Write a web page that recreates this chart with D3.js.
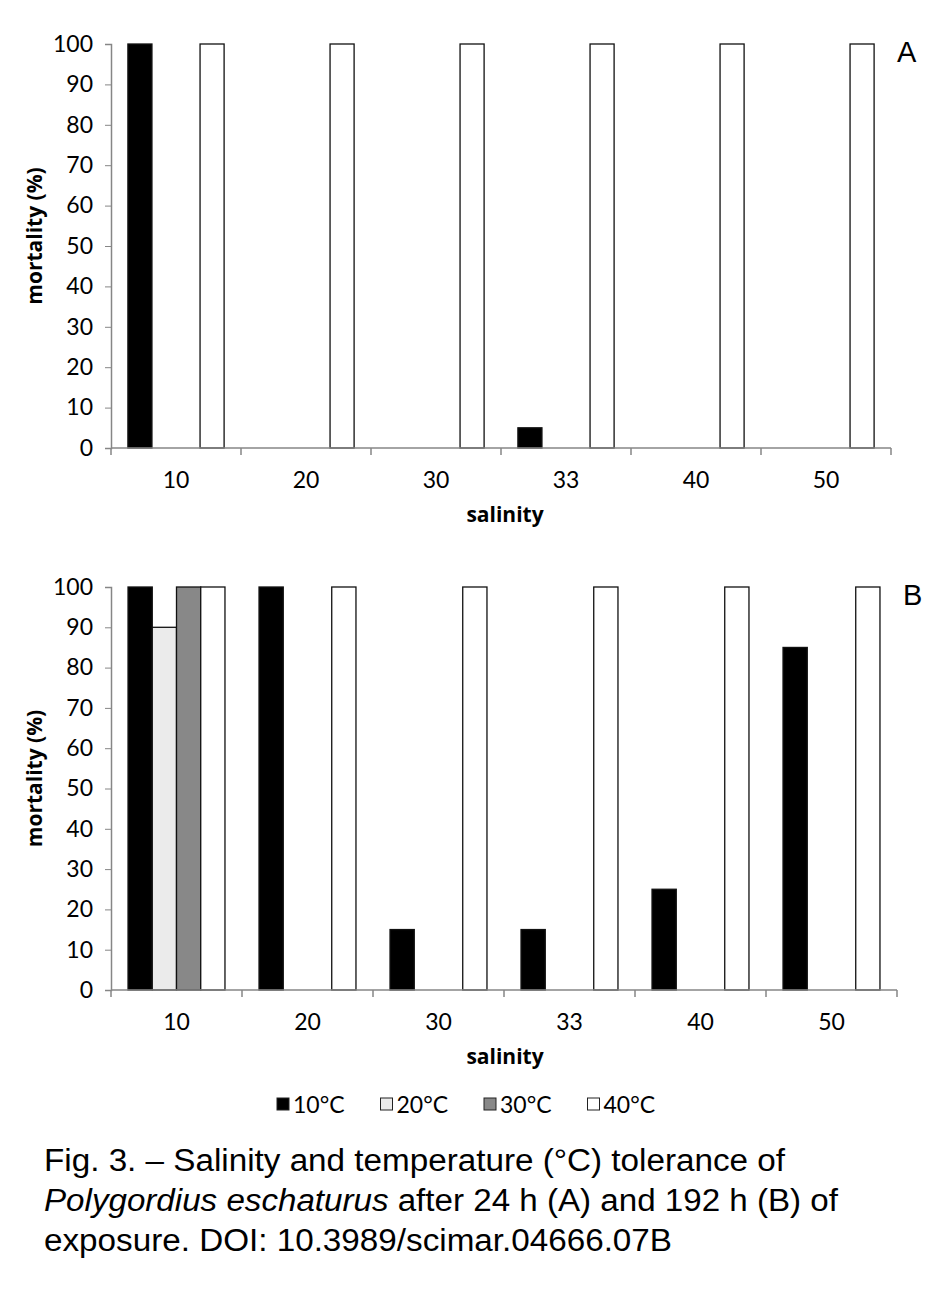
<!DOCTYPE html>
<html>
<head>
<meta charset="utf-8">
<script src="https://cdn.jsdelivr.net/npm/d3@7"></script>
<style>
  body { margin: 0; background: #fff; }
  .axis path, .axis line { stroke: #868686; }
  .axis text { font-family: Lato, "Open Sans", sans-serif; font-size: 23px; fill: #000; }
  .axis_title { font-family: "Open Sans", Lato, sans-serif; font-weight: bold; font-size: 21px; }
  .panel_label { font-family: "Liberation Sans", Arial, sans-serif; font-size: 29px; }
  .caption { font-family: "Liberation Sans Narrow", "Liberation Sans", Arial, sans-serif; font-size: 31px; }
</style>
</head>
<body>
<div id="chart"></div>
<script>

// data
let salinity = ["10", "20", "30", "33", "40", "50"];
let temps = ["10°C", "20°C", "30°C", "40°C"];
let tempColors = ["#000000", "#ebebeb", "#888888", "#ffffff"];
let yTicks = [0, 10, 20, 30, 40, 50, 60, 70, 80, 90, 100];

// mortality (%) after 24 h, one array per temperature
let mortA_10 = [100, 0, 0, 5, 0, 0];
let mortA_20 = [0, 0, 0, 0, 0, 0];
let mortA_30 = [0, 0, 0, 0, 0, 0];
let mortA_40 = [100, 100, 100, 100, 100, 100];

// mortality (%) after 192 h
let mortB_10 = [100, 100, 15, 15, 25, 85];
let mortB_20 = [90, 0, 0, 0, 0, 0];
let mortB_30 = [100, 0, 0, 0, 0, 0];
let mortB_40 = [100, 100, 100, 100, 100, 100];

let captionLines = [
    "Fig. 3. – Salinity and temperature (°C) tolerance of",
    "after 24 h (A) and 192 h (B) of",
    "exposure. DOI: 10.3989/scimar.04666.07B"
];

let svg = d3.select("#chart").append("svg")
    .attr("width", 945)
    .attr("height", 1295);

function drawPanel(series, cfg) {
    let g = svg.append("g")
        .attr("transform", "translate(" + cfg.left + "," + cfg.top + ")");

    let rows = salinity.map((s, i) => ({key: s, values: series.map((arr, k) => ({temp: temps[k], value: arr[i], color: tempColors[k]}))}));

    let x0 = d3.scaleBand()
        .domain(salinity)
        .range([0, cfg.width]);

    let bw = x0.bandwidth();
    let x1 = d3.scaleBand()
        .domain(temps)
        .range([bw * 0.13, bw * 0.87]);

    let y = d3.scaleLinear()
        .domain([0, 100])
        .range([cfg.height, 0]);

    // bars
    let groups = g.selectAll(".grp")
        .data(rows)
        .enter()
        .append("g")
        .attr("class", "grp")
        .attr("transform", d => "translate(" + x0(d.key) + ",0)");

    groups.selectAll("rect")
        .data(d => d.values.filter(v => v.value > 0))
        .enter()
        .append("rect")
        .attr("x", d => x1(d.temp))
        .attr("width", x1.bandwidth())
        .attr("y", d => y(d.value))
        .attr("height", d => y(0) - y(d.value))
        .attr("fill", d => d.color)
        .attr("stroke", "#111")
        .attr("stroke-width", 1.3);

    // y axis
    let yAxis = d3.axisLeft(y)
        .tickValues(yTicks)
        .tickSizeInner(6)
        .tickSizeOuter(6)
        .tickPadding(12);

    g.append("g")
        .attr("class", "y-axis axis")
        .call(yAxis)
        .call(a => a.select(".domain").attr("stroke-width", 1.5));

    // x axis: line with ticks between categories (excel style)
    let xa = g.append("g")
        .attr("class", "x-axis axis")
        .attr("transform", "translate(0," + cfg.height + ")");

    xa.append("line")
        .attr("x1", 0).attr("x2", cfg.width)
        .attr("stroke-width", 1.5);

    xa.selectAll(".sep")
        .data(salinity.concat(["end"]))
        .enter()
        .append("line")
        .attr("class", "sep")
        .attr("x1", (d, i) => i * bw)
        .attr("x2", (d, i) => i * bw)
        .attr("y1", 0).attr("y2", 7)
        .attr("stroke-width", 1.5);

    xa.selectAll(".lbl")
        .data(salinity)
        .enter()
        .append("text")
        .attr("class", "lbl")
        .attr("x", d => x0(d) + bw / 2)
        .attr("y", 40)
        .attr("text-anchor", "middle")
        .text(d => d);

    // titles
    g.append("text")
        .attr("class", "axis_title")
        .attr("transform", "translate(" + (-69) + "," + (cfg.height / 2 - 10) + ")rotate(-90)")
        .attr("text-anchor", "middle")
        .text("mortality (%)");

    g.append("text")
        .attr("class", "axis_title")
        .attr("x", 394)
        .attr("y", cfg.height + 74)
        .attr("text-anchor", "middle")
        .text("salinity");

    g.append("text")
        .attr("class", "panel_label")
        .attr("x", cfg.width + 6)
        .attr("y", 18)
        .text(cfg.label);
}

drawPanel([mortA_10, mortA_20, mortA_30, mortA_40], {left: 111, top: 44, width: 780, height: 404, label: "A"});
drawPanel([mortB_10, mortB_20, mortB_30, mortB_40], {left: 111, top: 587, width: 786, height: 403, label: "B"});

// legend
let legend = svg.append("g")
    .attr("transform", "translate(277,1104)");

let li = legend.selectAll(".li")
    .data(temps)
    .enter()
    .append("g")
    .attr("transform", (d, i) => "translate(" + (i * 103.5) + ",0)");

li.append("rect")
    .attr("x", 0).attr("y", -6)
    .attr("width", 12).attr("height", 12)
    .attr("fill", (d, i) => tempColors[i])
    .attr("stroke", "#222")
    .attr("stroke-width", 1);

li.append("text")
    .attr("x", 16)
    .attr("y", 9)
    .attr("font-family", "Lato, 'Open Sans', sans-serif")
    .attr("font-size", 23)
    .text(d => d);

// caption
let cap = svg.append("g").attr("class", "caption");

cap.append("text")
    .attr("x", 44).attr("y", 1171)
    .attr("textLength", 741)
    .attr("lengthAdjust", "spacingAndGlyphs")
    .text(captionLines[0]);

let l2 = cap.append("text")
    .attr("x", 44).attr("y", 1211)
    .attr("textLength", 794)
    .attr("lengthAdjust", "spacingAndGlyphs");
l2.append("tspan").attr("font-style", "italic").text("Polygordius eschaturus");
l2.append("tspan").text(" " + captionLines[1]);

cap.append("text")
    .attr("x", 44).attr("y", 1251)
    .attr("textLength", 628)
    .attr("lengthAdjust", "spacingAndGlyphs")
    .text(captionLines[2]);

</script>
</body>
</html>
